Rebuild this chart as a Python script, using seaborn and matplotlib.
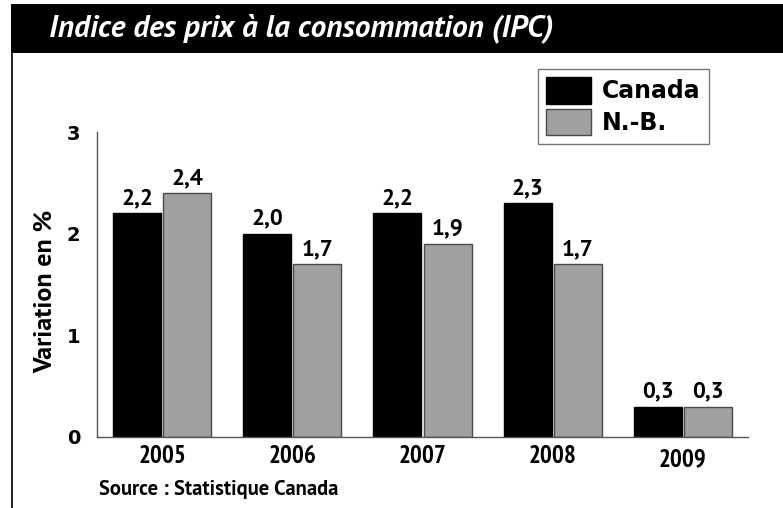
import matplotlib
matplotlib.use("Agg")
import matplotlib.pyplot as plt
import matplotlib.transforms as mtransforms
import seaborn as sns
import pandas as pd
from matplotlib.patches import Rectangle
from matplotlib.lines import Line2D
from matplotlib import font_manager

annees = ["2005", "2006", "2007", "2008", "2009"]
canada = [2.2, 2.0, 2.2, 2.3, 0.3]
nb = [2.4, 1.7, 1.9, 1.7, 0.3]
regions = ["Canada", "N.-B."]
couleurs = ["#000000", "#a0a0a0"]


def choisir(liste, italique=False):
    # premiere famille qui a une vraie graisse bold (et italique si demande)
    for nom in liste:
        for f in font_manager.fontManager.ttflist:
            if f.name != nom or f.weight not in (700, "bold"):
                continue
            if italique and f.style != "italic":
                continue
            return nom
    return "DejaVu Sans"


police = choisir(["Source Sans Pro", "PT Sans", "Fira Sans", "Open Sans", "Lato"])
police_titre = choisir(["Source Sans Pro", "PT Sans", "Fira Sans", "Open Sans", "Lato"], italique=True)
etroite = choisir(["PT Sans Narrow", "Fira Sans Condensed", "Archivo Narrow", "Asap Condensed"])
print("polices:", police, police_titre, etroite)

df = pd.DataFrame({
    "annee": annees * 2,
    "valeur": canada + nb,
    "region": [regions[0]] * len(annees) + [regions[1]] * len(annees),
})

sns.set_style("white")
plt.rcParams["font.family"] = [police, "DejaVu Sans"]
plt.rcParams["text.color"] = "black"
plt.rcParams["xtick.color"] = "black"
plt.rcParams["ytick.color"] = "black"

fig = plt.figure(figsize=(7.83, 5.08), dpi=100)
ax = fig.add_axes([97 / 783, 1 - 437 / 508, (748 - 97) / 783, (437 - 132) / 508])

sns.barplot(data=df, x="annee", y="valeur", hue="region", palette=couleurs,
            width=0.77, gap=0.04, linewidth=1, ax=ax)

bords = ["#000000", "#4a4a4a"]
for cont, bord in zip(ax.containers, bords):
    for p in cont:
        p.set_edgecolor(bord)
    ax.bar_label(cont, labels=[f"{v:.1f}".replace(".", ",") for v in cont.datavalues],
                 padding=3, fontsize=16.5, fontweight="bold", color="black")

ax.set_ylim(0, 3.0)
ax.set_xlim(-0.5, 4.5)
ax.set_yticks([0, 1, 2, 3])
ax.set_yticklabels(["0", "1", "2", "3"], fontfamily="DejaVu Sans", fontweight="bold", fontsize=14)
ax.tick_params(axis="both", length=0)
ax.tick_params(axis="y", pad=12)
ax.tick_params(axis="x", pad=6)
for lab in ax.get_xticklabels():
    lab.set_fontfamily([etroite, "DejaVu Sans"])
    lab.set_fontsize(18)
    lab.set_fontweight("bold")
# 2009 un peu plus bas
dernier = ax.get_xticklabels()[-1]
dernier.set_transform(dernier.get_transform()
                      + mtransforms.ScaledTranslation(0, -3 / 100, fig.dpi_scale_trans))
ax.set_xlabel("")
ax.set_ylabel("")
for s in ["top", "right"]:
    ax.spines[s].set_visible(False)
for s in ["left", "bottom"]:
    ax.spines[s].set_color("#555555")
    ax.spines[s].set_linewidth(1)

ax.get_legend().remove()
poignees = [Rectangle((0, 0), 1, 1, facecolor=c, edgecolor=b, linewidth=1) for c, b in zip(couleurs, bords)]
leg = fig.legend(poignees, regions, loc="upper left", bbox_to_anchor=(538 / 783, 1 - 69 / 508),
                 bbox_transform=fig.transFigure, borderaxespad=0, frameon=True, fancybox=False,
                 prop={"family": "DejaVu Sans", "size": 17, "weight": "bold"},
                 handlelength=1.9, handleheight=1.36, labelspacing=0.2, borderpad=0.35,
                 handletextpad=0.45)
leg.get_frame().set_edgecolor("#555555")
leg.get_frame().set_linewidth(1)
for t in leg.get_texts():
    t.set_color("black")

# bandeau du titre
fig.patches.append(Rectangle((11 / 783, 1 - 53 / 508), 1, 49 / 508, transform=fig.transFigure,
                             facecolor="black", edgecolor="none"))
fig.lines.append(Line2D([11.5 / 783, 11.5 / 783], [0, 1 - 53 / 508], transform=fig.transFigure,
                        color="black", linewidth=1.2))
titre = fig.text(49 / 783, 1 - 36 / 508, "Indice des prix à la consommation (IPC)", color="white",
                 fontsize=22, fontweight="bold", fontstyle="italic", va="baseline", ha="left",
                 fontfamily=[police_titre, "DejaVu Sans"])

ylab = fig.text(45 / 783, 1 - 291 / 508, "Variation en %", rotation=90, fontsize=17,
                fontweight="bold", va="center", ha="center")
source = fig.text(99 / 783, 1 - 495 / 508, "Source : Statistique Canada", fontsize=16,
                  fontweight="bold", va="baseline", ha="left")

# ajuster la taille des textes à la largeur
fig.canvas.draw()
rend = fig.canvas.get_renderer()
for t, cible, axe in [(titre, 503, "w"), (source, 240, "w"), (ylab, 163, "h")]:
    bb = t.get_window_extent(rend)
    mesure = bb.width if axe == "w" else bb.height
    t.set_fontsize(t.get_fontsize() * cible / mesure)

fig.savefig("out.png", dpi=100)
